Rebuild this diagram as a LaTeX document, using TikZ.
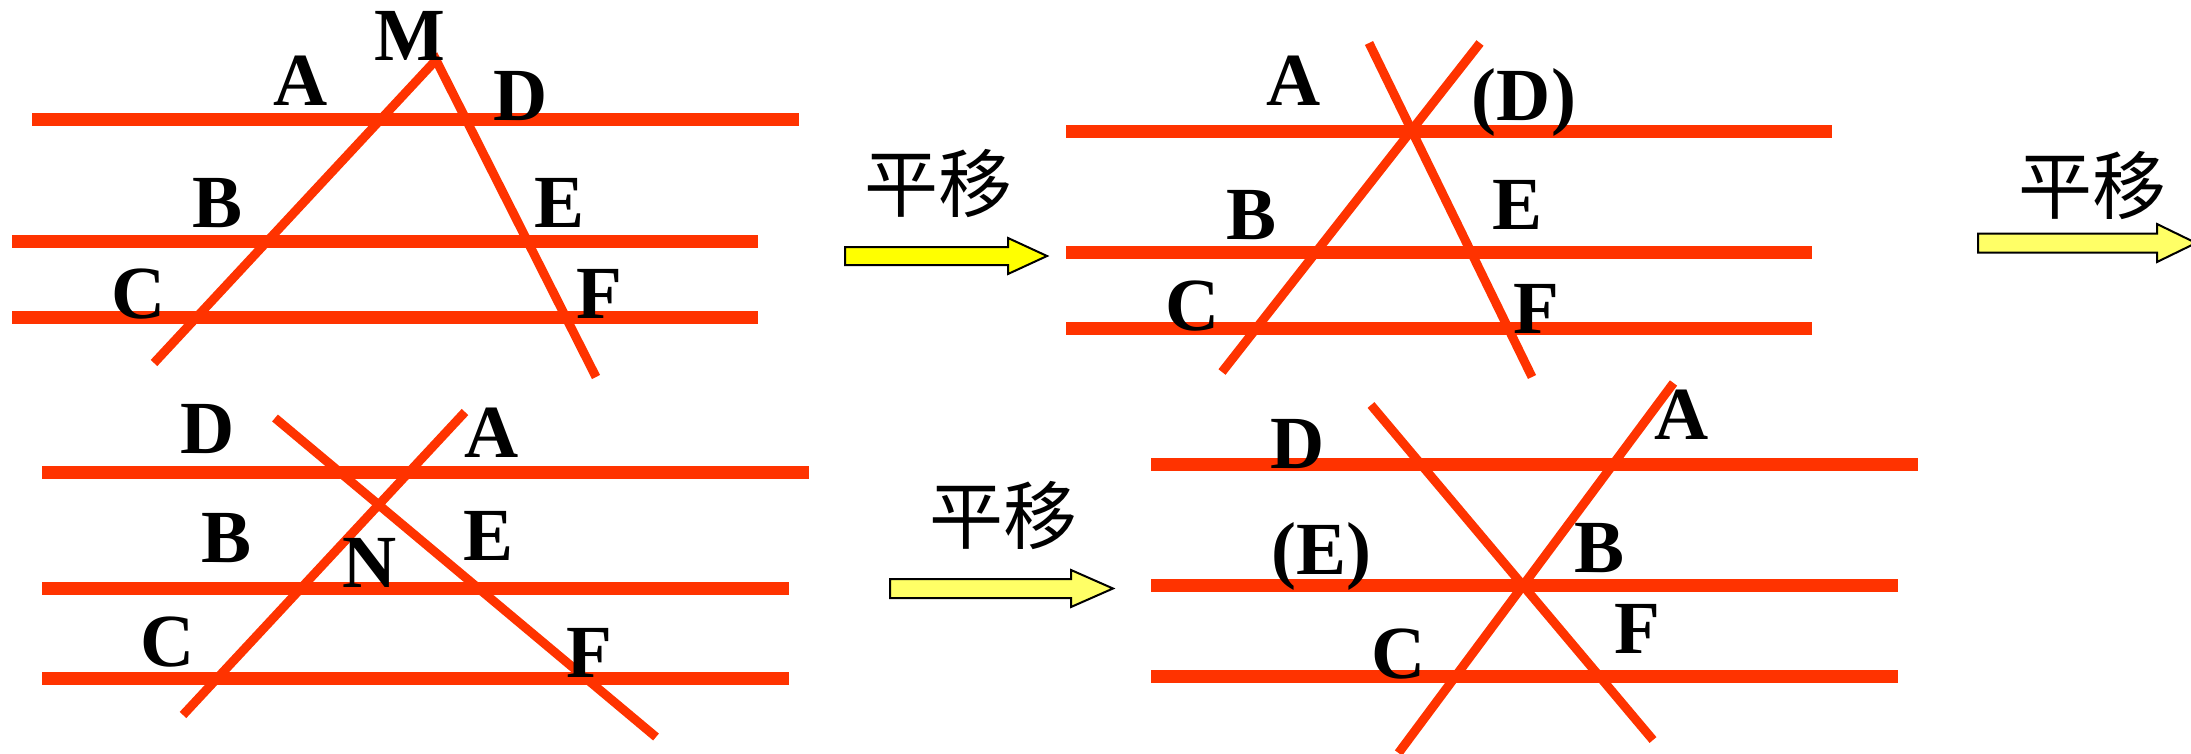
\documentclass[tikz,border=0pt]{standalone}
\usepackage{fontspec}
\setmainfont{Liberation Serif}
\newfontfamily\cjk{Noto Sans CJK SC}
\definecolor{lred}{HTML}{FF3300}
\definecolor{yelA}{HTML}{FFFF00}
\definecolor{yelB}{HTML}{FFFF66}
\tikzset{
  hline/.style={draw=lred, line width=13pt},
  sline/.style={draw=lred, line width=9pt, line join=miter},
  lbl/.style={inner sep=0pt, anchor=base, font=\fontsize{75}{80}\selectfont\bfseries},
  cn/.style={inner sep=0pt, font=\cjk\fontsize{74}{78}\selectfont},
  blockarr/.style={draw=black, line width=2pt, line join=miter},
}
\begin{document}
\begin{tikzpicture}[x=1pt,y=-1pt]
\useasboundingbox (0,0) rectangle (2191,754);
% ---------- panel 1 ----------
\draw[hline] (32,119.5) -- (799,119.5);
\draw[hline] (12,241.5) -- (758,241.5);
\draw[hline] (12,317) -- (758,317);
\draw[sline] (154,363) -- (436,60) -- (596,377);
\node[lbl] (m1) at (410,60.7) {M};
\node[lbl] (a1) at (301,106) {A};
\node[lbl] (d1) at (521,121) {D};
\node[lbl] (b1) at (218,227) {B};
\node[lbl] (e1) at (560,227) {E};
\node[lbl] (c1) at (139,318) {C};
\node[lbl] (f1) at (599,318) {F};
% ---------- panel 2 ----------
\draw[hline] (1066,131.5) -- (1832,131.5);
\draw[hline] (1066,252.5) -- (1812,252.5);
\draw[hline] (1066,328.5) -- (1812,328.5);
\draw[sline] (1369,43) -- (1532,377);
\draw[sline] (1480,43) -- (1222,372);
\node[lbl] (a2) at (1294,106) {A};
\node[lbl] (d2) at (1524,121) {(D)};
\node[lbl] (b2) at (1251,239) {B};
\node[lbl] (e2) at (1517,229) {E};
\node[lbl] (c2) at (1193,330) {C};
\node[lbl] (f2) at (1536,333) {F};
% ---------- panel 3 ----------
\draw[hline] (42,472.5) -- (809,472.5);
\draw[hline] (42,588.5) -- (789,588.5);
\draw[hline] (42,678.5) -- (789,678.5);
\draw[sline] (275,418) -- (656,737);
\draw[sline] (465,412) -- (183,715);
\node[lbl] (d3) at (208,453) {D};
\node[lbl] (a3) at (492,457) {A};
\node[lbl] (b3) at (227,562) {B};
\node[lbl] (n3) at (370,587) {N};
\node[lbl] (e3) at (489,560) {E};
\node[lbl] (c3) at (168,666) {C};
\node[lbl] (f3) at (589,677) {F};
% ---------- panel 4 ----------
\draw[hline] (1151,464.5) -- (1918,464.5);
\draw[hline] (1151,585.5) -- (1898,585.5);
\draw[hline] (1151,676.5) -- (1898,676.5);
\draw[sline] (1371,405) -- (1653,740);
\draw[sline] (1673.5,383) -- (1398.5,753);
\node[lbl] (d4) at (1298,468) {D};
\node[lbl] (a4) at (1682,439) {A};
\node[lbl] (e4) at (1321,574) {(E)};
\node[lbl] (b4) at (1599,572) {B};
\node[lbl] (c4) at (1399,678) {C};
\node[lbl] (f4) at (1637,653) {F};
% ---------- arrows ----------
\node[cn] (t1) at (938,183.5) {平移};
\node[cn] (t2) at (2092,185.5) {平移};
\node[cn] (t3) at (1003,515.5) {平移};
\draw[blockarr, fill=yelA] (845,247) -- (1008,247) -- (1008,238) -- (1047,256)
  -- (1008,274) -- (1008,265) -- (845,265) -- cycle;
\draw[blockarr, fill=yelB] (1978,233.5) -- (2157,233.5) -- (2157,224) -- (2196,243)
  -- (2157,262) -- (2157,252.5) -- (1978,252.5) -- cycle;
\draw[blockarr, fill=yelB] (890,579) -- (1071,579) -- (1071,570) -- (1113,588.5)
  -- (1071,607) -- (1071,598) -- (890,598) -- cycle;
\end{tikzpicture}
\end{document}
